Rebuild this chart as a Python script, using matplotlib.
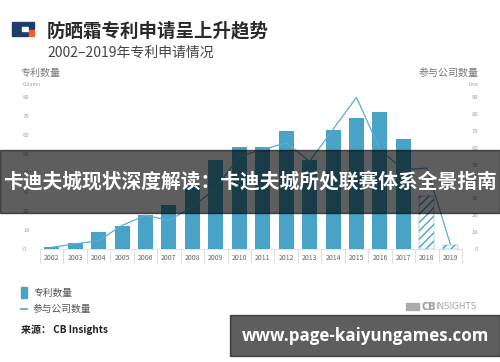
import matplotlib
matplotlib.use("Agg")
import matplotlib.pyplot as plt
from matplotlib.patches import Rectangle

plt.rcParams['font.family'] = ['Noto Sans CJK SC', 'DejaVu Sans']

# data
years = ['2002', '2003', '2004', '2005', '2006', '2007', '2008', '2009', '2010',
         '2011', '2012', '2013', '2014', '2015', '2016', '2017', '2018', '2019']
patents = [1, 3, 9, 12, 18, 23, 33, 47, 54, 54, 62, 47, 63, 69, 72, 58, 28, 2]
companies = [1, 3, 5, 14, 20, 17, 25, 36, 55, 59, 63, 52, 71, 90, 59, 47, 48, 3]
partial_years = ['2018', '2019']  # hatched bars

left_ticks = list(range(0, 90, 10))
right_ticks = list(range(0, 100, 10))

BLUE = '#48a3c6'
LINE_BLUE = '#5badd3'
W, H = 500, 362


def fx(px):
    return px / W


def fy(py):
    # pixel measured from the top -> figure fraction
    return 1 - py / H


fig = plt.figure(figsize=(5, 3.62), dpi=100)

# plot area: x 40..462 px, value 0 at y=249 px
left_top = 82
ax = fig.add_axes([fx(40), fy(249), fx(422), left_top * 1.896 / H])
x = list(range(len(years)))

for i, (yr, v) in enumerate(zip(years, patents)):
    if yr in partial_years:
        ax.bar(i, v, width=0.64, facecolor='white', edgecolor=BLUE,
               hatch='////', linewidth=0.3, zorder=2)
    else:
        ax.bar(i, v, width=0.64, color=BLUE, linewidth=0, zorder=2)

ax.set_xlim(-0.5, len(years) - 0.5)
ax.set_ylim(0, left_top)
ax.set_yticks(left_ticks)
ax.tick_params(axis='y', length=0, pad=12.2, labelsize=4.3, labelcolor='#a0a0a0')
for lbl in ax.get_yticklabels():
    lbl.set_horizontalalignment('left')

# category separators as major ticks, labels on minor ticks
ax.set_xticks([i - 0.5 for i in range(len(years) + 1)])
ax.set_xticklabels([])
ax.set_xticks(x, minor=True)
ax.set_xticklabels(years, minor=True)
ax.tick_params(axis='x', which='major', length=10, width=0.6, color='#d8d8d8')
ax.tick_params(axis='x', which='minor', length=0, pad=3.5, labelsize=5, labelcolor='#666666')

for s in ['top', 'right', 'left']:
    ax.spines[s].set_visible(False)
ax.spines['bottom'].set_color('#dddddd')
ax.spines['bottom'].set_linewidth(0.6)

ax2 = ax.twinx()
ax2.plot(x, companies, color=LINE_BLUE, linewidth=0.9, zorder=3)
ax2.set_ylim(0, left_top * 90 / 80)
ax2.set_yticks(right_ticks)
ax2.tick_params(axis='y', length=0, pad=11.5, labelsize=4.3, labelcolor='#a0a0a0')
for lbl in ax2.get_yticklabels():
    lbl.set_horizontalalignment('right')
for s in ax2.spines.values():
    s.set_visible(False)

# header logo
fig.add_artist(Rectangle((fx(12), fy(36)), fx(16), 14 / H, color='#1d3c6b', transform=fig.transFigure))
fig.add_artist(Rectangle((fx(22), fy(31)), fx(6), 4 / H, color='white', transform=fig.transFigure))
fig.add_artist(Rectangle((fx(29), fy(29)), fx(5), 7 / H, color='#1d3c6b', transform=fig.transFigure))
fig.add_artist(Rectangle((fx(29), fy(36)), fx(5), 6 / H, color='#e8642c', transform=fig.transFigure))

fig.text(fx(47), fy(31), '防晒霜专利申请呈上升趋势', fontsize=13.3, fontweight='bold',
         color='#2a2a2a', va='center', ha='left')
fig.text(fx(47), fy(53), '2002–2019年专利申请情况', fontsize=10,
         color='#444444', va='center', ha='left')

fig.text(fx(20), fy(73), '专利数量', fontsize=7.2, color='#777777', va='center', ha='left')
fig.text(fx(23), fy(84), 'Column', fontsize=3.5, color='#9a9a9a', va='center', ha='left')
fig.text(fx(479), fy(73), '参与公司数量', fontsize=7.2, color='#777777', va='center', ha='right')
fig.text(fx(478), fy(84), 'Line', fontsize=3.5, color='#9a9a9a', va='center', ha='right')

# legend
fig.add_artist(Rectangle((fx(21), fy(298)), fx(6), 11 / H, color=BLUE, transform=fig.transFigure))
fig.text(fx(33), fy(292.5), '专利数量', fontsize=7, color='#555555', va='center', ha='left')
fig.add_artist(plt.Line2D([fx(21), fx(27)], [fy(309), fy(309)], color=BLUE, linewidth=1.2,
                          transform=fig.transFigure))
fig.text(fx(33), fy(309), '参与公司数量', fontsize=7, color='#555555', va='center', ha='left')
fig.text(fx(21), fy(330), '来源： CB Insights', fontsize=7.2, fontweight='bold',
         color='#222222', va='center', ha='left')

# CB Insights mark
fig.add_artist(Rectangle((fx(406), fy(310)), fx(8), 7 / H, color='#aaaaaa', transform=fig.transFigure))
fig.add_artist(Rectangle((fx(415), fy(310)), fx(4), 7 / H, color='#aaaaaa', transform=fig.transFigure))
fig.text(fx(421), fy(306.5), 'CB', fontsize=7, fontweight='bold', color='#9a9a9a',
         va='center', ha='left', family='DejaVu Sans')
fig.text(fx(435), fy(306.5), 'INSIGHTS', fontsize=6.3, color='#a5a5a5',
         va='center', ha='left', family='DejaVu Sans')

# overlay banners
fig.add_artist(Rectangle((0, fy(213)), 1, 63 / H, color='black', alpha=0.63,
                         transform=fig.transFigure, zorder=10))
fig.text(0.5, fy(181.5), '卡迪夫城现状深度解读：卡迪夫城所处联赛体系全景指南', fontsize=14.2,
         fontweight='bold', color='white', va='center', ha='center', zorder=11)

fig.add_artist(Rectangle((fx(230), fy(356)), fx(270), 41 / H, color='black', alpha=0.63,
                         transform=fig.transFigure, zorder=10))
fig.text(fx(366), fy(336), 'www.page-kaiyungames.com', fontsize=12.2, fontweight='bold',
         color='white', va='center', ha='center', family='Open Sans', zorder=11)

fig.savefig('out.png', dpi=100)
